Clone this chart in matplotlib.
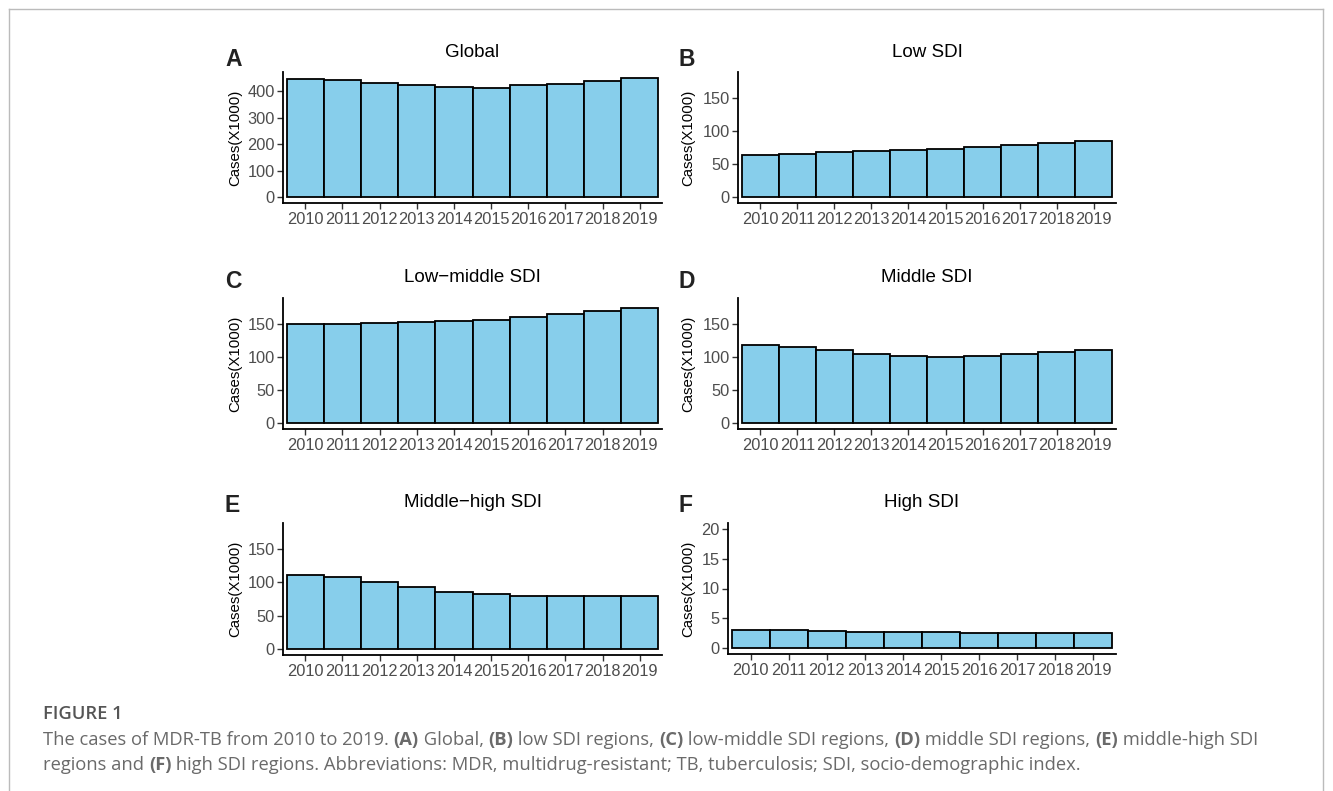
import matplotlib
matplotlib.use("Agg")
import matplotlib.pyplot as plt
from matplotlib.lines import Line2D

W, H = 1333, 791

years = [str(y) for y in range(2010, 2020)]

global_cases = [447, 442, 432, 422, 414, 413, 422, 429, 439, 450]
low_sdi = [64, 65.5, 68, 69, 71, 72.5, 76, 78.5, 81.5, 84.5]
low_middle_sdi = [149, 150, 151.5, 152.5, 154, 156.5, 161, 165.5, 169, 173.5]
middle_sdi = [118.5, 115.5, 110, 105, 101.5, 100, 102, 105, 108, 111]
middle_high_sdi = [111.5, 107.5, 100.5, 93, 85.5, 82, 80, 79, 79, 79]
high_sdi = [3.1, 3.0, 2.9, 2.7, 2.65, 2.65, 2.6, 2.6, 2.6, 2.6]

titles = ["Global", "Low SDI", "Low\u2212middle SDI", "Middle SDI",
          "Middle\u2212high SDI", "High SDI"]
letters = ["A", "B", "C", "D", "E", "F"]
series = [global_cases, low_sdi, low_middle_sdi, middle_sdi, middle_high_sdi, high_sdi]
yticks = [[0, 100, 200, 300, 400], [0, 50, 100, 150], [0, 50, 100, 150],
          [0, 50, 100, 150], [0, 50, 100, 150], [0, 5, 10, 15, 20]]
ylims = [(0, 450), (0, 180), (0, 180), (0, 180), (0, 180), (0, 20)]

# panel boxes in pixels: left, right, top, bottom
boxes = [(283, 662, 72, 203), (738, 1116, 72, 203),
         (283, 662, 298, 429), (738, 1116, 298, 429),
         (283, 662, 523, 655), (728, 1116, 523, 654)]
letter_x = [225, 678, 225, 678, 225, 678]
letter_y = [66, 66, 288, 288, 512, 512]
title_y = [57, 57, 282, 282, 507, 507]
ylab_x = [235, 688, 235, 688, 235, 688]

plt.rcParams['font.family'] = ['Liberation Sans', 'DejaVu Sans']

fig = plt.figure(figsize=(W / 100, H / 100), dpi=100)
fig.patch.set_facecolor("white")

for i in range(6):
    l, r, t, b = boxes[i]
    ax = fig.add_axes([l / W, 1 - b / H, (r - l) / W, (b - t) / H])
    ax.bar(range(10), series[i], width=1.0, color="#87CEEB",
           edgecolor="black", linewidth=1.3, zorder=2)
    lo, hi = ylims[i]
    pad = 0.05 * (hi - lo)
    ax.set_ylim(lo - pad, hi + pad)
    ax.set_xlim(-0.6, 9.6)
    ax.set_xticks(range(10))
    ax.set_xticklabels(years)
    ax.set_yticks(yticks[i])
    for s in ["top", "right"]:
        ax.spines[s].set_visible(False)
    for s in ["left", "bottom"]:
        ax.spines[s].set_linewidth(1.3)
        ax.spines[s].set_color("black")
    ax.tick_params(axis="both", length=4, width=1, color="#333333",
                   labelsize=11.8, labelcolor="#4D4D4D")
    ax.tick_params(axis="x", pad=2.5)
    ax.tick_params(axis="y", pad=2)
    ax.set_facecolor("white")

    fig.text((l + r) / 2 / W, 1 - title_y[i] / H, titles[i], ha="center",
             va="baseline", fontsize=13.5, color="black")
    fig.text(letter_x[i] / W, 1 - letter_y[i] / H, letters[i], ha="left",
             va="baseline", fontsize=16.5, fontweight="bold", color="#222222")
    fig.text(ylab_x[i] / W, 1 - (t + b) / 2 / H, "Cases(X1000)", rotation=90,
             ha="center", va="center", fontsize=10.8, color="black")

# border around the figure panel
border = dict(color="#BBBBBB", linewidth=1.0, transform=fig.transFigure)
fig.add_artist(Line2D([9 / W, 1323 / W], [1 - 9 / H, 1 - 9 / H], **border))
fig.add_artist(Line2D([9 / W, 9 / W], [1 - 9 / H, 0], **border))
fig.add_artist(Line2D([1323 / W, 1323 / W], [1 - 9 / H, 0], **border))

# caption
cap_font = ['Open Sans', 'DejaVu Sans']
cap_color = "#6A6A6A"
fig.text(43 / W, 1 - 719 / H, "FIGURE 1", family=cap_font, fontsize=13.2,
         fontweight="semibold", color="#555555", va="baseline")

line1 = [("The cases of MDR-TB from 2010 to 2019. ", False), ("(A)", True),
         (" Global, ", False), ("(B)", True), (" low SDI regions, ", False),
         ("(C)", True), (" low-middle SDI regions, ", False), ("(D)", True),
         (" middle SDI regions, ", False), ("(E)", True),
         (" middle-high SDI", False)]
line2 = [("regions and ", False), ("(F)", True),
         (" high SDI regions. Abbreviations: MDR, multidrug-resistant; TB, "
          "tuberculosis; SDI, socio-demographic index.", False)]

renderer = fig.canvas.get_renderer()


def draw_runs(runs, x0, ybase, size):
    x = x0
    for txt, bold in runs:
        tt = fig.text(x / W, 1 - ybase / H, txt, family=cap_font, fontsize=size,
                      fontweight="bold" if bold else "normal", color=cap_color,
                      va="baseline", ha="left")
        x += tt.get_window_extent(renderer).width
    return x


draw_runs(line1, 43, 745, 13.25)
draw_runs(line2, 43, 770, 13.25)

fig.savefig("out.png", dpi=100, facecolor="white")
